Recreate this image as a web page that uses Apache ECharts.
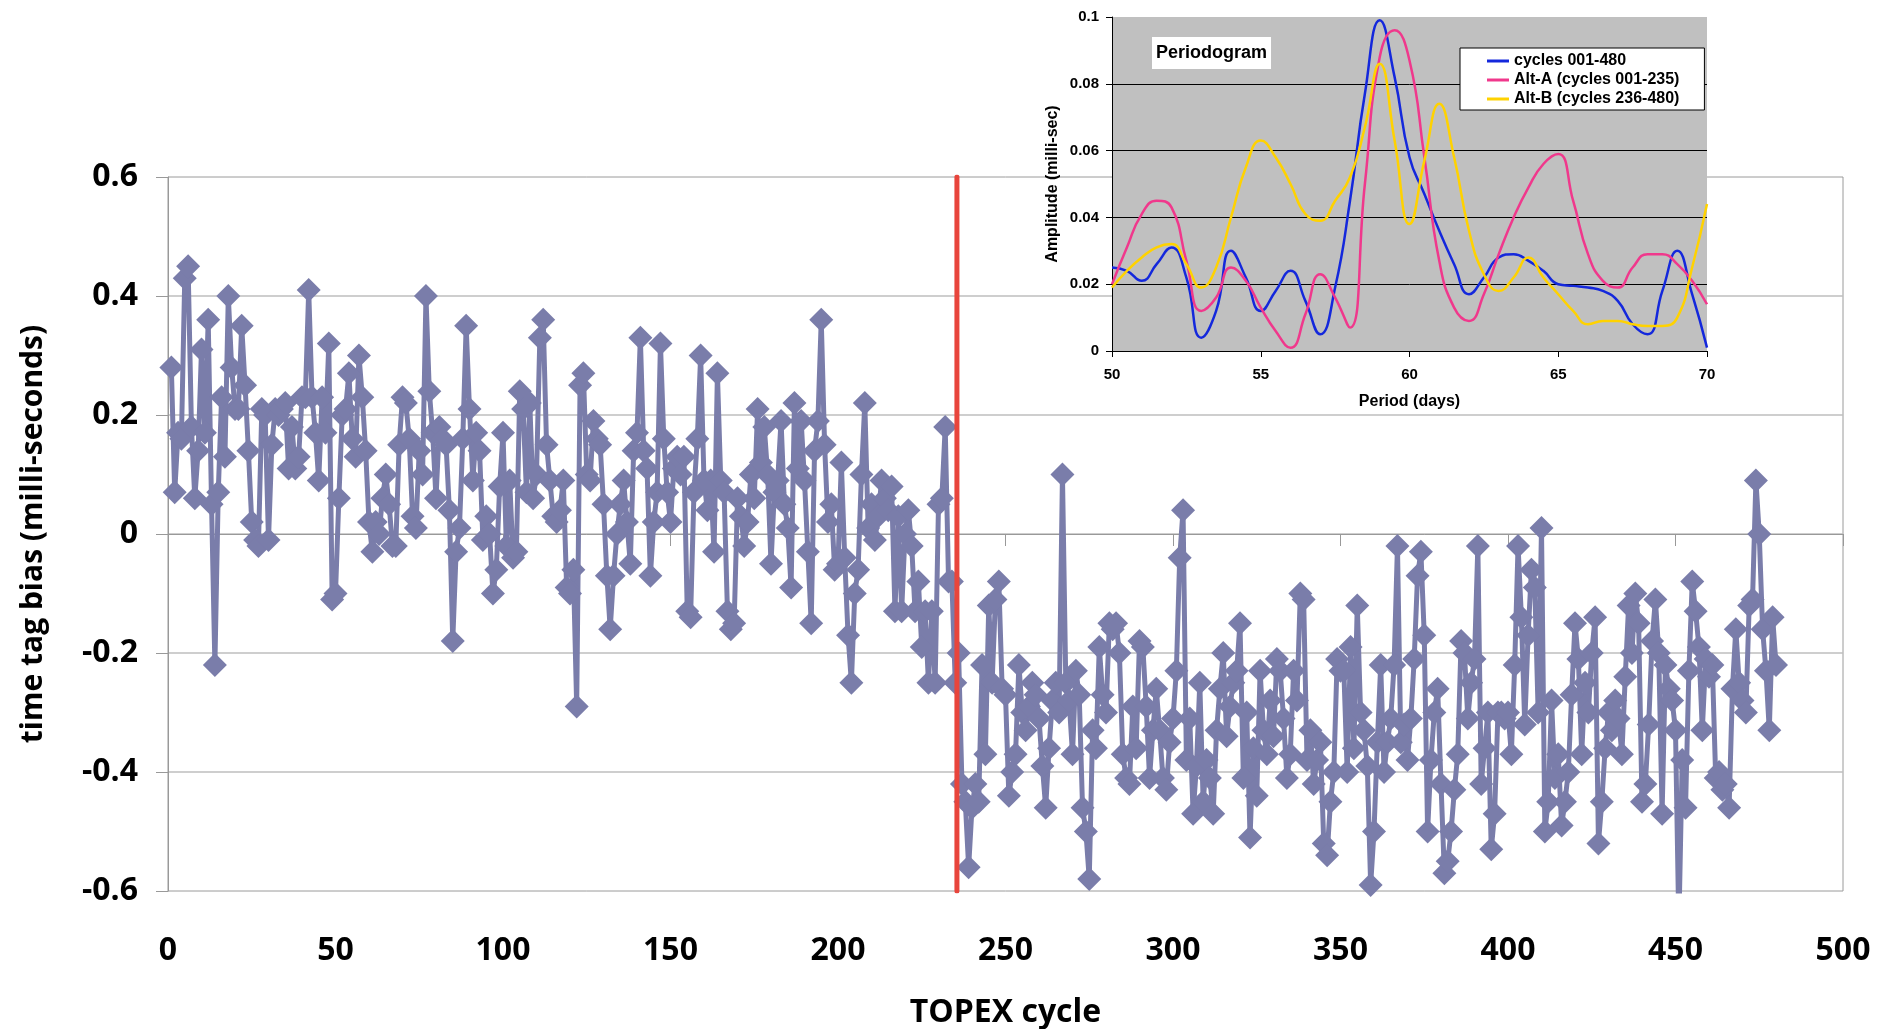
<!DOCTYPE html>
<html>
<head>
<meta charset="utf-8">
<title>TOPEX time tag bias</title>
<script src="https://cdn.jsdelivr.net/npm/echarts@6/dist/echarts.min.js"></script>
<style>
  html, body { margin: 0; padding: 0; background: #fff; }
  #chart { width: 1879px; height: 1029px; }
</style>
</head>
<body>
<div id="chart"></div>
<script>
// Time tag bias per TOPEX cycle (milli-seconds), cycles 1-480.
const biasCycles001to120 = [
  0.28, 0.07, 0.17, 0.16, 0.43, 0.45, 0.18, 0.06, 0.14, 0.31,
  0.17, 0.36, 0.05, -0.22, 0.07, 0.23, 0.13, 0.40, 0.28, 0.21,
  0.21, 0.35, 0.25, 0.14, 0.02, -0.01, -0.02, 0.21, 0.20, -0.01,
  0.15, 0.21, 0.20, 0.21, 0.22, 0.11, 0.18, 0.11, 0.13, 0.23,
  0.23, 0.41, 0.23, 0.17, 0.09, 0.23, 0.17, 0.32, -0.11, -0.10,
  0.06, 0.20, 0.21, 0.27, 0.16, 0.13, 0.30, 0.23, 0.14, 0.02,
  -0.03, 0.02, 0.00, 0.06, 0.10, 0.05, -0.02, -0.02, 0.15, 0.23,
  0.22, 0.16, 0.03, 0.01, 0.14, 0.10, 0.40, 0.24, 0.17, 0.06,
  0.18, 0.16, 0.15, 0.04, -0.18, -0.03, 0.01, 0.16, 0.35, 0.21,
  0.09, 0.17, 0.14, -0.01, 0.03, 0.00, -0.10, -0.06, 0.08, 0.17,
  -0.02, 0.09, -0.04, -0.03, 0.24, 0.21, 0.07, 0.22, 0.06, 0.10,
  0.33, 0.36, 0.15, 0.09, 0.03, 0.02, 0.04, 0.09, -0.09, -0.10
];
const biasCycles121to235 = [
  -0.06, -0.29, 0.25, 0.27, 0.10, 0.09, 0.19, 0.16, 0.15, 0.05,
  -0.07, -0.16, -0.07, 0.00, 0.05, 0.09, 0.02, -0.05, 0.14, 0.17,
  0.33, 0.14, 0.11, -0.07, 0.02, 0.07, 0.32, 0.16, 0.07, 0.02,
  0.11, 0.13, 0.10, 0.13, -0.13, -0.14, 0.07, 0.16, 0.30, 0.09,
  0.04, 0.09, -0.03, 0.27, 0.09, 0.07, -0.13, -0.16, -0.15, 0.06,
  0.03, -0.02, 0.02, 0.10, 0.06, 0.21, 0.12, 0.18, 0.10, -0.05,
  0.07, 0.09, 0.19, 0.05, 0.01, -0.09, 0.22, 0.11, 0.19, 0.09,
  -0.03, -0.15, 0.14, 0.19, 0.36, 0.15, 0.02, 0.05, -0.06, -0.05,
  0.12, -0.04, -0.17, -0.25, -0.10, -0.06, 0.10, 0.22, 0.01, 0.05,
  -0.01, 0.03, 0.09, 0.06, 0.04, 0.08, -0.13, 0.03, -0.13, 0.00,
  0.04, -0.02, -0.13, -0.08, -0.19, -0.13, -0.25, -0.13, -0.25, 0.05,
  0.06, 0.18, -0.08, -0.08, -0.25
];
const biasCycles236to360 = [
  -0.20, -0.42, -0.45, -0.56, -0.46,
  -0.42, -0.45, -0.22, -0.37, -0.12, -0.25, -0.11, -0.08, -0.26, -0.27,
  -0.44, -0.40, -0.37, -0.22, -0.30, -0.33, -0.29, -0.25, -0.27, -0.31,
  -0.39, -0.46, -0.36, -0.28, -0.25, -0.30, 0.10, -0.25, -0.28, -0.37,
  -0.23, -0.27, -0.46, -0.50, -0.58, -0.33, -0.36, -0.19, -0.27, -0.30,
  -0.15, -0.16, -0.15, -0.20, -0.37, -0.41, -0.42, -0.29, -0.36, -0.18,
  -0.19, -0.29, -0.41, -0.33, -0.26, -0.33, -0.41, -0.43, -0.35, -0.31,
  -0.23, -0.04, 0.04, -0.38, -0.31, -0.47, -0.39, -0.25, -0.45, -0.38,
  -0.41, -0.47, -0.33, -0.26, -0.20, -0.34, -0.29, -0.25, -0.23, -0.15,
  -0.41, -0.30, -0.51, -0.36, -0.44, -0.23, -0.33, -0.37, -0.28, -0.34,
  -0.21, -0.23, -0.31, -0.41, -0.37, -0.23, -0.28, -0.10, -0.11, -0.38,
  -0.33, -0.42, -0.38, -0.35, -0.52, -0.54, -0.45, -0.40, -0.21, -0.23,
  -0.23, -0.40, -0.19, -0.36, -0.12, -0.30, -0.33, -0.39, -0.59, -0.50
];
const biasCycles361to480 = [
  -0.35, -0.22, -0.40, -0.35, -0.31, -0.22, -0.02, -0.35, -0.32, -0.38,
  -0.31, -0.21, -0.07, -0.03, -0.17, -0.50, -0.38, -0.30, -0.26, -0.42,
  -0.57, -0.55, -0.50, -0.43, -0.37, -0.18, -0.20, -0.31, -0.25, -0.21,
  -0.02, -0.42, -0.36, -0.30, -0.53, -0.47, -0.30, -0.30, -0.31, -0.30,
  -0.37, -0.22, -0.02, -0.14, -0.32, -0.17, -0.06, -0.09, -0.30, 0.01,
  -0.50, -0.45, -0.28, -0.41, -0.37, -0.49, -0.45, -0.40, -0.27, -0.15,
  -0.21, -0.37, -0.25, -0.30, -0.20, -0.14, -0.52, -0.45, -0.36, -0.30,
  -0.33, -0.28, -0.31, -0.37, -0.24, -0.12, -0.20, -0.10, -0.15, -0.45,
  -0.42, -0.32, -0.18, -0.11, -0.20, -0.47, -0.22, -0.26, -0.28, -0.33,
  -0.66, -0.38, -0.46, -0.23, -0.08, -0.13, -0.19, -0.33, -0.21, -0.24,
  -0.22, -0.41, -0.40, -0.43, -0.42, -0.46, -0.26, -0.16, -0.25, -0.28,
  -0.30, -0.12, -0.11, 0.09, 0.00, -0.16, -0.23, -0.33, -0.14, -0.22
];
const firstCycle = 1;
const altSwitchCycle = 235.5;   // boundary between Alt-A (to 235) and Alt-B (from 236)
const biasRange = [-0.6, 0.6];

// Periodogram (amplitude, milli-sec) vs period in days.
const periodDays = [
  50, 50.5, 51, 51.5, 52, 52.5, 53, 53.5, 54, 54.5,
  55, 55.5, 56, 56.5, 57, 57.5, 58, 58.5, 59, 59.5,
  60, 60.5, 61, 61.5, 62, 62.5, 63, 63.5, 64, 64.5,
  65, 65.5, 66, 66.5, 67, 67.5, 68, 68.5, 69, 69.5, 70
];
const ampAll = [
  0.025, 0.024, 0.021, 0.026, 0.031, 0.022, 0.004, 0.012, 0.030, 0.022,
  0.012, 0.018, 0.024, 0.015, 0.005, 0.019, 0.045, 0.077, 0.099, 0.082,
  0.058, 0.047, 0.036, 0.026, 0.017, 0.022, 0.028, 0.029, 0.027, 0.024,
  0.020, 0.0195, 0.019, 0.018, 0.015, 0.008, 0.005, 0.018, 0.030, 0.017, 0.001
];
const ampAltA = [
  0.020, 0.031, 0.041, 0.045, 0.043, 0.027, 0.012, 0.016, 0.025, 0.021,
  0.013, 0.006, 0.001, 0.011, 0.023, 0.016, 0.007, 0.050, 0.088, 0.096,
  0.087, 0.058, 0.027, 0.013, 0.009, 0.017, 0.029, 0.040, 0.049, 0.056,
  0.059, 0.045, 0.029, 0.021, 0.019, 0.025, 0.029, 0.029, 0.026, 0.021, 0.014
];
const ampAltB = [
  0.019, 0.024, 0.028, 0.031, 0.032, 0.026, 0.019, 0.025, 0.040, 0.055,
  0.063, 0.058, 0.050, 0.041, 0.039, 0.045, 0.052, 0.067, 0.086, 0.063,
  0.038, 0.057, 0.074, 0.058, 0.036, 0.023, 0.018, 0.022, 0.028, 0.022,
  0.017, 0.012, 0.008, 0.009, 0.009, 0.008, 0.0075, 0.0075, 0.010, 0.025, 0.044
];
const periodogramNames = ['cycles 001-480', 'Alt-A (cycles 001-235)', 'Alt-B (cycles 236-480)'];

const biasValues = biasCycles001to120.concat(biasCycles121to235, biasCycles236to360, biasCycles361to480);
const biasPoints = biasValues.map((v, i) => [firstCycle + i, v]);
const pairUp = (xs, ys) => xs.map((x, i) => [x, ys[i]]);

const mainFont = '"Open Sans", "Liberation Sans", sans-serif';
const insetFont = '"Liberation Sans", Arial, sans-serif';
const mainText = { fontFamily: mainFont, fontWeight: 'bold', fontSize: 32, color: '#000' };
const insetText = { fontFamily: insetFont, fontWeight: 'bold', fontSize: 15, color: '#000' };

const chart = echarts.init(document.getElementById('chart'));

chart.setOption({
  animation: false,
  backgroundColor: '#fff',
  title: {
    text: 'Periodogram',
    left: 1152, top: 37,
    padding: [7, 4],
    backgroundColor: '#fff',
    textStyle: { fontFamily: insetFont, fontWeight: 'bold', fontSize: 18, color: '#000' },
    z: 10
  },
  legend: {
    data: periodogramNames.map(n => ({ name: n, icon: 'rect' })),
    orient: 'vertical',
    left: 1460, top: 48,
    padding: [5, 25, 3, 27],
    itemGap: 3,
    itemWidth: 22,
    itemHeight: 3,
    backgroundColor: '#fff',
    borderColor: '#000',
    borderWidth: 1,
    textStyle: { fontFamily: insetFont, fontWeight: 'bold', fontSize: 16, lineHeight: 16, color: '#000' },
    z: 10
  },
  grid: [
    { left: 168, right: 36, top: 177, bottom: 138, show: true, outerBoundsMode: 'none',
      borderColor: '#9a9a9a', borderWidth: 1, backgroundColor: 'transparent', z: 0 },
    { left: 1112, right: 172, top: 17, bottom: 678, show: true, outerBoundsMode: 'none',
      borderWidth: 0, backgroundColor: '#C0C0C0', z: 5 }
  ],
  xAxis: [
    {
      gridIndex: 0, type: 'value', min: 0, max: 500, interval: 50,
      axisLine: { show: true, lineStyle: { color: '#999', width: 1 } },
      axisTick: { show: true, length: 12, lineStyle: { color: '#999' } },
      axisLabel: Object.assign({ margin: 44 }, mainText),
      splitLine: { show: false },
      name: 'TOPEX cycle', nameLocation: 'middle', nameGap: 106,
      nameTextStyle: mainText
    },
    {
      gridIndex: 1, type: 'value', min: 50, max: 70, interval: 5, z: 6,
      axisLine: { show: true, lineStyle: { color: '#000', width: 1 } },
      axisTick: { show: true, length: 6, lineStyle: { color: '#000' } },
      axisLabel: Object.assign({ margin: 16 }, insetText),
      splitLine: { show: false },
      name: 'Period (days)', nameLocation: 'middle', nameGap: 43,
      nameTextStyle: Object.assign({}, insetText, { fontSize: 16 })
    }
  ],
  yAxis: [
    {
      gridIndex: 0, type: 'value', min: biasRange[0], max: biasRange[1], interval: 0.2,
      axisLine: { show: true, lineStyle: { color: '#999', width: 1 } },
      axisTick: { show: true, length: 12, lineStyle: { color: '#999' } },
      axisLabel: Object.assign({ margin: 30 }, mainText),
      splitLine: { show: true, showMinLine: false, showMaxLine: false,
        lineStyle: { color: '#BEBEBE', width: 1.5 } },
      name: 'time tag bias (milli-seconds)', nameLocation: 'middle', nameGap: 120,
      nameRotate: 90,
      nameTextStyle: Object.assign({}, mainText, { fontSize: 30 })
    },
    {
      gridIndex: 1, type: 'value', min: 0, max: 0.1, interval: 0.02, z: 6,
      axisLine: { show: true, lineStyle: { color: '#000', width: 1 } },
      axisTick: { show: true, length: 6, lineStyle: { color: '#000' } },
      axisLabel: Object.assign({ margin: 13 }, insetText),
      splitLine: { show: true, showMinLine: false, showMaxLine: false,
        lineStyle: { color: '#000', width: 1 } },
      name: 'Amplitude (milli-sec)', nameLocation: 'middle', nameGap: 51,
      nameRotate: 90,
      nameTextStyle: Object.assign({}, insetText, { fontSize: 16 })
    }
  ],
  series: [
    {
      name: 'time tag bias',
      type: 'line',
      xAxisIndex: 0, yAxisIndex: 0,
      data: biasPoints,
      symbol: 'diamond',
      symbolSize: 24,
      showAllSymbol: true,
      clip: true,
      lineStyle: { color: '#7A7DAA', width: 5 },
      itemStyle: { color: '#7A7DAA' },
      z: 2
    },
    {
      name: 'Alt-A / Alt-B switch',
      type: 'line',
      xAxisIndex: 0, yAxisIndex: 0,
      data: [[altSwitchCycle, biasRange[1]], [altSwitchCycle, biasRange[0]]],
      symbol: 'none',
      lineStyle: { color: '#E8453C', width: 5, cap: 'round' },
      z: 3
    },
    {
      name: periodogramNames[0],
      type: 'line', xAxisIndex: 1, yAxisIndex: 1,
      data: pairUp(periodDays, ampAll),
      smooth: 0.5, symbol: 'none',
      lineStyle: { color: '#1428DC', width: 2.5 },
      itemStyle: { color: '#1428DC' },
      z: 7
    },
    {
      name: periodogramNames[1],
      type: 'line', xAxisIndex: 1, yAxisIndex: 1,
      data: pairUp(periodDays, ampAltA),
      smooth: 0.5, symbol: 'none',
      lineStyle: { color: '#F0388C', width: 2.5 },
      itemStyle: { color: '#F0388C' },
      z: 7
    },
    {
      name: periodogramNames[2],
      type: 'line', xAxisIndex: 1, yAxisIndex: 1,
      data: pairUp(periodDays, ampAltB),
      smooth: 0.5, symbol: 'none',
      lineStyle: { color: '#FFD200', width: 2.5 },
      itemStyle: { color: '#FFD200' },
      z: 7
    }
  ]
});
</script>
</body>
</html>
